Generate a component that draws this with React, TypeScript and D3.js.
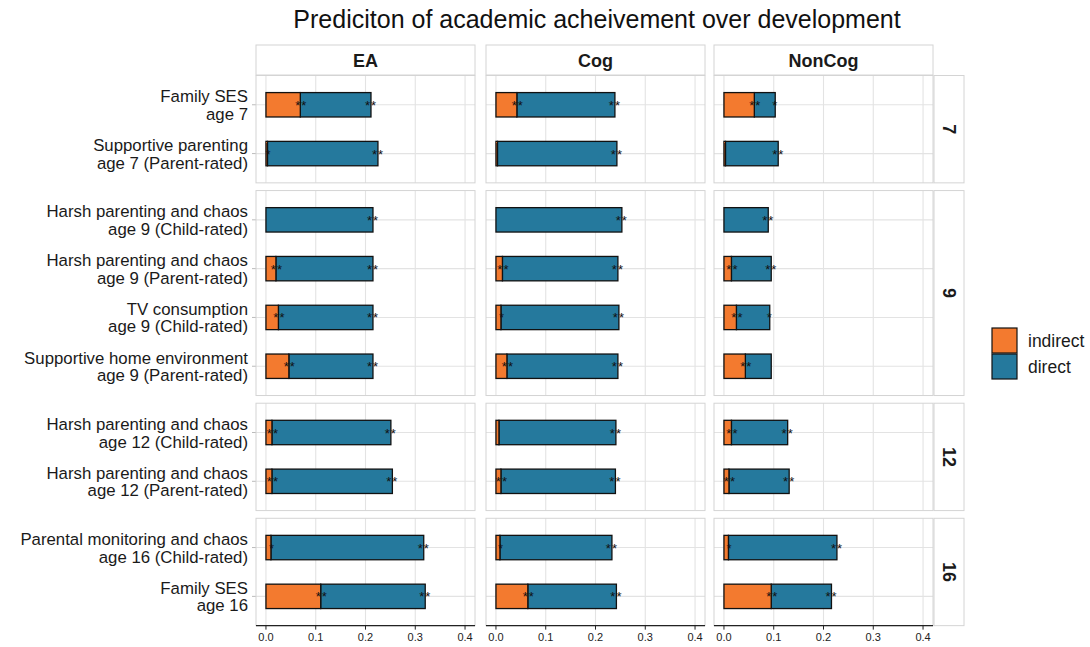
import React from "react";
import * as d3 from "d3";

const title = "Prediciton of academic acheivement over development";
const outcomes = ["EA", "Cog", "NonCog"];
const ageFacets = ["7", "9", "12", "16"];
const predictorLine1 = [
  "Family SES",
  "Supportive parenting",
  "Harsh parenting and chaos",
  "Harsh parenting and chaos",
  "TV consumption",
  "Supportive home environment",
  "Harsh parenting and chaos",
  "Harsh parenting and chaos",
  "Parental monitoring and chaos",
  "Family SES",
];
const predictorLine2 = [
  "age 7",
  "age 7 (Parent-rated)",
  "age 9 (Child-rated)",
  "age 9 (Parent-rated)",
  "age 9 (Child-rated)",
  "age 9 (Parent-rated)",
  "age 12 (Child-rated)",
  "age 12 (Parent-rated)",
  "age 16 (Child-rated)",
  "age 16",
];
const predictorAge = ["7", "7", "9", "9", "9", "9", "12", "12", "16", "16"];

const indirectEA = [0.069, 0.003, 0.0, 0.02, 0.025, 0.046, 0.012, 0.012, 0.01, 0.11];
const directEA = [0.142, 0.222, 0.215, 0.195, 0.19, 0.169, 0.239, 0.242, 0.307, 0.21];
const indirectCog = [0.042, 0.003, 0.0, 0.013, 0.01, 0.022, 0.006, 0.01, 0.008, 0.064];
const directCog = [0.197, 0.24, 0.253, 0.232, 0.237, 0.223, 0.235, 0.23, 0.225, 0.178];
const indirectNonCog = [0.061, 0.003, 0.0, 0.015, 0.025, 0.043, 0.015, 0.01, 0.009, 0.095];
const directNonCog = [0.042, 0.106, 0.089, 0.08, 0.067, 0.052, 0.113, 0.121, 0.218, 0.121];

const starsIndirectEA = ["**", "*", "", "**", "**", "**", "**", "**", "*", "**"];
const starsDirectEA = ["**", "**", "**", "**", "**", "**", "**", "**", "**", "**"];
const starsIndirectCog = ["**", "", "", "**", "*", "**", "", "**", "*", "**"];
const starsDirectCog = ["**", "**", "**", "**", "**", "**", "**", "**", "**", "**"];
const starsIndirectNonCog = ["**", "", "", "**", "**", "**", "**", "**", "*", "**"];
const starsDirectNonCog = ["*", "**", "**", "**", "*", "", "**", "**", "**", "**"];

const xTicks = [0, 0.1, 0.2, 0.3, 0.4];
const legendLabels = ["indirect", "direct"];

const COL_IND = "#F37A2F";
const COL_DIR = "#25799D";
const GRID = "#e3e3e3";
const BORDER = "#d4d4d4";
const FONT = "'Liberation Sans', Arial, Helvetica, sans-serif";

const indirectBy: Record<string, number[]> = { EA: indirectEA, Cog: indirectCog, NonCog: indirectNonCog };
const directBy: Record<string, number[]> = { EA: directEA, Cog: directCog, NonCog: directNonCog };
const starsIndBy: Record<string, string[]> = { EA: starsIndirectEA, Cog: starsIndirectCog, NonCog: starsIndirectNonCog };
const starsDirBy: Record<string, string[]> = { EA: starsDirectEA, Cog: starsDirectCog, NonCog: starsDirectNonCog };

export default function App() {
  const W = 1090, H = 647;
  const panelLefts = [256, 486, 714];
  const panelW = 219;
  const stripTop = 45, stripH = 30;
  const top = 75.5;
  const unit = 48.8;
  const gap = 7.7;
  const stripX = 934, stripW = 30;

  const facetLayout = ageFacets.map((age) => {
    const idx = predictorAge.map((a, i) => (a === age ? i : -1)).filter((i) => i >= 0);
    return { age, idx, h: (idx.length - 1 + 1.2) * unit };
  });
  let yy = top;
  const facets = facetLayout.map((f) => {
    const t = yy;
    yy += f.h + gap;
    const scale = d3
      .scalePoint<number>()
      .domain(f.idx)
      .range([t, t + f.h])
      .padding(0.6);
    return { ...f, top: t, scale };
  });
  const bottom = facets[facets.length - 1].top + facets[facets.length - 1].h;
  const barH = unit * 0.5;

  return (
    <svg width={W} height={H} style={{ display: "block", position: "absolute", left: 0, top: 0 }} fontFamily={FONT}>
      <rect x={0} y={0} width={W} height={H} fill="white" />
      <text x={597} y={28} textAnchor="middle" fontSize={25} fill="#111">
        {title}
      </text>

      {outcomes.map((o, j) => (
        <g key={"strip" + o}>
          <rect x={panelLefts[j]} y={stripTop} width={panelW} height={stripH} fill="white" stroke={BORDER} strokeWidth={1} />
          <text x={panelLefts[j] + panelW / 2} y={stripTop + 21.5} textAnchor="middle" fontSize={18} fontWeight="bold" fill="#1a1a1a">
            {o}
          </text>
        </g>
      ))}

      {facets.map((f) => (
        <g key={"rs" + f.age}>
          <rect x={stripX} y={f.top} width={stripW} height={f.h} fill="white" stroke={BORDER} strokeWidth={1} />
          <text
            transform={`translate(${stripX + 8.5},${f.top + f.h / 2}) rotate(90)`}
            textAnchor="middle"
            fontSize={18}
            fontWeight="bold"
            fill="#1a1a1a"
          >
            {f.age}
          </text>
        </g>
      ))}

      {facets.map((f) =>
        f.idx.map((i) => {
          const cy = f.scale(i) as number;
          return (
            <g key={"yl" + i}>
              <text x={248} y={cy - 2.5} textAnchor="end" fontSize={16.8} fill="#1a1a1a">
                {predictorLine1[i]}
              </text>
              <text x={248} y={cy + 15} textAnchor="end" fontSize={16.8} fill="#1a1a1a">
                {predictorLine2[i]}
              </text>
              <line x1={252} x2={256} y1={cy} y2={cy} stroke="#bbb" />
            </g>
          );
        })
      )}

      {outcomes.map((o, j) => {
        const x = d3.scaleLinear().domain([-0.02, 0.42]).range([panelLefts[j], panelLefts[j] + panelW]);
        const ind = indirectBy[o], dir = directBy[o];
        return (
          <g key={"p" + o}>
            {facets.map((f) => (
              <g key={"pf" + f.age}>
                <rect x={panelLefts[j]} y={f.top} width={panelW} height={f.h} fill="white" />
                {xTicks.map((t) => (
                  <line key={t} x1={x(t)} x2={x(t)} y1={f.top} y2={f.top + f.h} stroke={GRID} strokeWidth={1.1} />
                ))}
                {f.idx.map((i) => (
                  <line key={"h" + i} x1={panelLefts[j]} x2={panelLefts[j] + panelW} y1={f.scale(i)} y2={f.scale(i)} stroke={GRID} strokeWidth={1.1} />
                ))}
                {f.idx.map((i) => {
                  const cy = f.scale(i) as number;
                  const a = ind[i], b = dir[i];
                  return (
                    <g key={"b" + i}>
                      <rect x={x(a)} y={cy - barH / 2} width={x(a + b) - x(a)} height={barH} fill={COL_DIR} stroke="#111" strokeWidth={1.3} />
                      {a > 0 && (
                        <rect x={x(0)} y={cy - barH / 2} width={x(a) - x(0)} height={barH} fill={COL_IND} stroke="#111" strokeWidth={1.3} />
                      )}
                      {starsIndBy[o][i] && (
                        <text x={x(a) + 1} y={cy + 5} textAnchor="middle" fontSize={13} fill="#111" letterSpacing={1}>
                          {starsIndBy[o][i]}
                        </text>
                      )}
                      {starsDirBy[o][i] && (
                        <text x={x(a + b)} y={cy + 5} textAnchor="middle" fontSize={13} fill="#111" letterSpacing={1}>
                          {starsDirBy[o][i]}
                        </text>
                      )}
                    </g>
                  );
                })}
                <rect x={panelLefts[j]} y={f.top} width={panelW} height={f.h} fill="none" stroke={BORDER} strokeWidth={1} />
              </g>
            ))}
            <line x1={panelLefts[j]} x2={panelLefts[j] + panelW} y1={bottom} y2={bottom} stroke="#222" strokeWidth={1.1} />
            {xTicks.map((t) => (
              <g key={"xt" + t}>
                <line x1={x(t)} x2={x(t)} y1={bottom} y2={bottom + 4} stroke="#222" />
                <text x={x(t)} y={bottom + 15.5} textAnchor="middle" fontSize={11} fill="#222">
                  {d3.format(".1f")(t)}
                </text>
              </g>
            ))}
          </g>
        );
      })}

      {legendLabels.map((l, k) => (
        <g key={"lg" + l}>
          <rect x={992} y={328 + k * 26} width={25} height={25} fill={k === 0 ? COL_IND : COL_DIR} stroke="#111" strokeWidth={1.2} />
          <text x={1028} y={347 + k * 26} fontSize={17.5} fill="#1a1a1a">
            {l}
          </text>
        </g>
      ))}
    </svg>
  );
}
